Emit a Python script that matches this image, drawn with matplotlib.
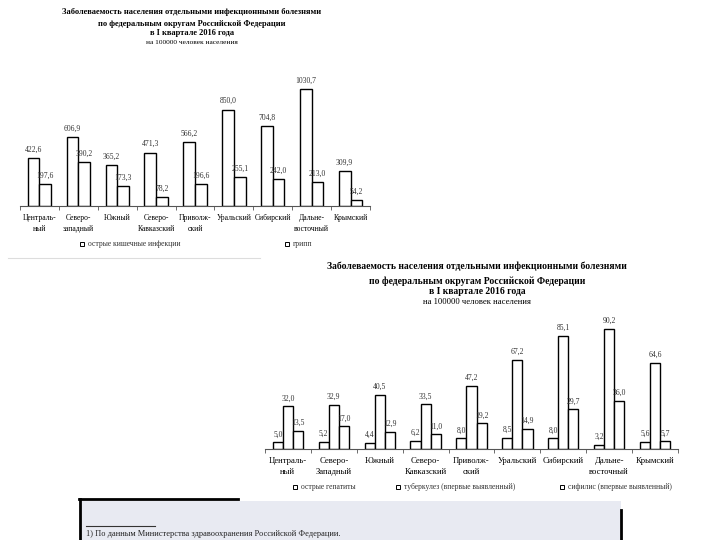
import matplotlib
matplotlib.use("Agg")
import matplotlib.pyplot as plt
from matplotlib.patches import Rectangle
from matplotlib.lines import Line2D
import numpy as np

plt.rcParams["font.family"] = ["Liberation Serif", "DejaVu Serif"]

# ----- data ---------------------------------------------------------------
top_title = ["Заболеваемость населения отдельными инфекционными болезнями",
             "по федеральным округам Российской Федерации",
             "в I квартале 2016 года"]
top_subtitle = "на 100000 человек населения"
top_cats = ["Централь-\nный", "Северо-\nзападный", "Южный", "Северо-\nКавказский",
            "Приволж-\nский", "Уральский", "Сибирский", "Дальне-\nвосточный", "Крымский"]
top_series = ["острые кишечные инфекции", "грипп"]
intestinal = [422.6, 606.9, 365.2, 471.3, 566.2, 850.0, 704.8, 1030.7, 309.9]
flu = [197.6, 390.2, 173.3, 78.2, 196.6, 255.1, 242.0, 213.0, 54.2]

bot_title = ["Заболеваемость населения отдельными инфекционными болезнями",
             "по федеральным округам Российской Федерации",
             "в I квартале 2016 года"]
bot_subtitle = "на 100000 человек населения"
bot_cats = ["Централь-\nный", "Северо-\nЗападный", "Южный", "Северо-\nКавказский",
            "Приволж-\nский", "Уральский", "Сибирский", "Дальне-\nвосточный", "Крымский"]
bot_series = ["острые гепатиты", "туберкулез (впервые выявленный)",
              "сифилис (впервые выявленный)"]
hepatitis = [5.0, 5.2, 4.4, 6.2, 8.0, 8.5, 8.0, 3.2, 5.6]
tuberculosis = [32.0, 32.9, 40.5, 33.5, 47.2, 67.2, 85.1, 90.2, 64.6]
syphilis = [13.5, 17.0, 12.9, 11.0, 19.2, 14.9, 29.7, 36.0, 5.7]

footnote = "1) По данным Министерства здравоохранения Российской Федерации."

W, H = 720, 540


def fx(px):
    return px / W


def fy(py):
    return 1 - py / H


def _bar_chart(fig, rect, cats, series, width, ymax, fs):
    ax = fig.add_axes(rect)
    n = len(series)
    x = np.arange(len(cats)) + 0.5
    for i, vals in enumerate(series):
        pos = x + (i - (n - 1) / 2) * width
        ax.bar(pos, vals, width=width, facecolor="white", edgecolor="black",
               linewidth=1.0)
        for p, v in zip(pos, vals):
            ax.text(p, v + ymax * 0.03, f"{v:.1f}".replace(".", ","),
                    ha="center", va="bottom", fontsize=5.5, color="#333333")
    ax.set_xlim(0, len(cats))
    ax.set_ylim(0, ymax)
    for s in ("top", "left", "right"):
        ax.spines[s].set_visible(False)
    ax.spines["bottom"].set_color("#555555")
    ax.set_yticks([])
    ax.set_xticks(x)
    ax.set_xticklabels(cats, fontsize=fs, linespacing=1.5)
    ax.tick_params(axis="x", which="major", length=0, pad=6)
    ax.set_xticks(np.arange(len(cats) + 1), minor=True)
    ax.tick_params(axis="x", which="minor", length=3, direction="out",
                   color="#555555")
    ax.patch.set_alpha(0)
    return ax


def _legend_item(fig, px, py, label):
    fig.add_artist(Rectangle((fx(px), fy(py) - 2 / H), 4 / W, 4 / H,
                             transform=fig.transFigure, facecolor="white",
                             edgecolor="black", linewidth=0.7))
    fig.text(fx(px + 8), fy(py), label, fontsize=5.5, va="center",
             color="#333333")


def _titles(fig, cx, ys, lines, sub, fs):
    for y, line in zip(ys[:3], lines):
        fig.text(fx(cx), fy(y), line, ha="center", va="center", fontsize=fs,
                 fontweight="bold")
    fig.text(fx(cx), fy(ys[3]), sub, ha="center", va="center", fontsize=fs - 0.7)


fig = plt.figure(figsize=(W / 100, H / 100), dpi=100)

# ----- top chart --------------------------------------------------------
_titles(fig, 192, [12, 24, 33, 43], top_title, top_subtitle, 6.0)
_bar_chart(fig, [fx(20), fy(206), fx(370) - fx(20), (206 - 66) / H],
           top_cats, [intestinal, flu], 0.3, 1030.7 * 140 / 117, 5.5)
_legend_item(fig, 80, 244, top_series[0])
_legend_item(fig, 285, 244, top_series[1])
fig.add_artist(Line2D([fx(8), fx(260)], [fy(258), fy(258)],
                      transform=fig.transFigure, color="#dddddd", lw=0.8))

# ----- bottom chart ------------------------------------------------------
_titles(fig, 477, [266, 281, 292, 302], bot_title, bot_subtitle, 6.9)
_bar_chart(fig, [fx(265), fy(449), fx(678) - fx(265), (449 - 315) / H],
           bot_cats, [hepatitis, tuberculosis, syphilis], 0.22, 90.2 * 134 / 120, 6.2)
_legend_item(fig, 293, 487, bot_series[0])
_legend_item(fig, 396, 487, bot_series[1])
_legend_item(fig, 560, 487, bot_series[2])

# ----- footnote box -------------------------------------------------------
fig.add_artist(Rectangle((fx(80), 0), (621 - 80) / W, (540 - 501) / H,
                         transform=fig.transFigure, facecolor="#e8eaf2",
                         edgecolor="none"))
fig.add_artist(Line2D([fx(79), fx(238)], [fy(499), fy(499)],
                      transform=fig.transFigure, color="black", lw=2))
fig.add_artist(Line2D([fx(80), fx(80)], [fy(499), 0],
                      transform=fig.transFigure, color="black", lw=2))
fig.add_artist(Line2D([fx(621), fx(621)], [fy(510), 0],
                      transform=fig.transFigure, color="black", lw=2))
fig.add_artist(Line2D([fx(86), fx(155)], [fy(526), fy(526)],
                      transform=fig.transFigure, color="#333333", lw=0.8))
fig.text(fx(86), fy(538), footnote, fontsize=6, va="bottom", color="#222222")

fig.savefig("out.png", dpi=100)
